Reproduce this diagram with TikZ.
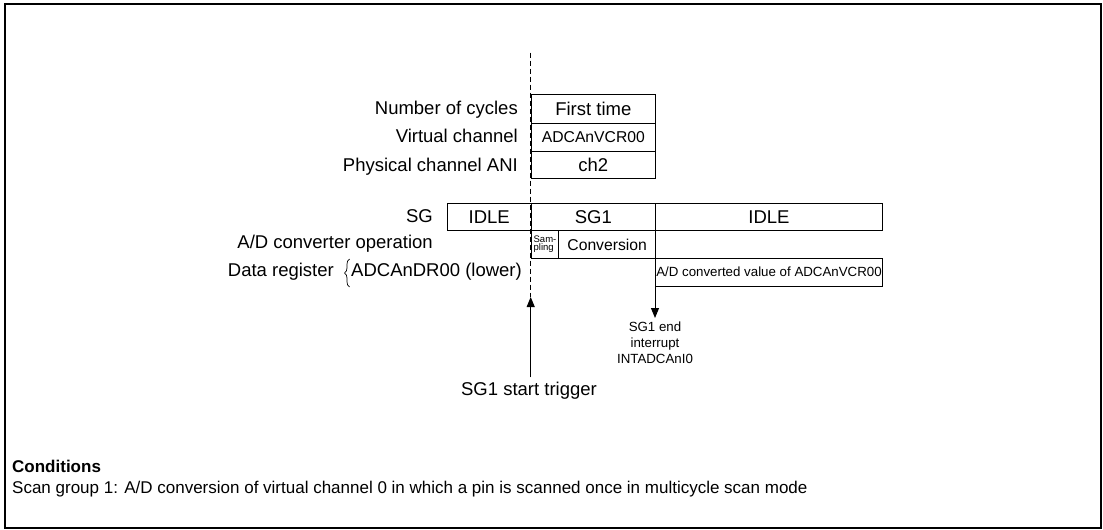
\documentclass[tikz,border=0pt]{standalone}
\usepackage{fontspec}
\setmainfont{Liberation Sans}
\usetikzlibrary{arrows.meta,decorations.pathreplacing}
\newcommand\myfbig{\fontsize{18.5}{22}\selectfont}
\newcommand\myfbot{\fontsize{17}{20}\selectfont}
\newcommand\myfmid{\fontsize{15.7}{18}\selectfont}
\newcommand\myfsmall{\fontsize{13.3}{16}\selectfont}
\newcommand\myftiny{\fontsize{9.5}{8}\selectfont}
\begin{document}
\begin{tikzpicture}[x=1pt,y=-1pt,
  box/.style={draw, line width=1pt, inner sep=0pt, anchor=north west, font=\myfbig},
  lbl/.style={inner sep=0pt, anchor=base east, font=\myfbig},
  conn/.style={line width=1pt, -{Triangle[length=10pt,width=8pt]}},
  frame/.style={line width=2pt}
]
\useasboundingbox (0,0) rectangle (1103,530);
\draw[frame] (5,4) rectangle (1101,528);

% top table
\node[box, minimum width=124.3, minimum height=28.4] (nc) at (530.7,94.3) {First time};
\node[box, minimum width=124.3, minimum height=28.3, font=\myfmid] (vc) at (530.7,122.7) {ADCAnVCR00};
\node[box, minimum width=124.3, minimum height=27.3] (pc) at (530.7,151) {ch2};
\node[lbl] (lnc) at (518,114.3) {Number of cycles};
\node[lbl] (lvc) at (518,142.7) {Virtual channel};
\node[lbl] (lpc) at (518,171) {Physical channel ANI};

% SG row
\node[box, minimum width=84, minimum height=27.6] (idle1) at (446.7,202.7) {IDLE};
\node[box, minimum width=124.3, minimum height=27.6] (sg1) at (530.7,202.7) {SG1};
\node[box, minimum width=227, minimum height=27.6] (idle2) at (655,202.7) {IDLE};
\node[lbl] (lsg) at (433,222) {SG};

% converter row
\node[box, minimum width=27.6, minimum height=27.2, font=\myftiny, align=left] (samp) at (530.7,230.3) {Sam-\\pling};
\node[box, minimum width=96.7, minimum height=27.2, font=\myfmid] (conv) at (558.3,230.3) {Conversion};
\node[lbl] (lad) at (433,248) {A/D converter operation};

% data register
\node[box, minimum width=227, minimum height=28, font=\myfsmall] (adv) at (655,257.7) {A/D converted value of ADCAnVCR00};
\node[lbl] (ldr) at (334,276.7) {Data register};
\node[inner sep=0pt, anchor=base west, font=\myfbig] (dr) at (351,276.7) {ADCAnDR00 (lower)};
\draw[line width=0.7pt, decorate, decoration={brace, amplitude=5pt}] (349.5,287) -- (349.5,259);

% dashed time line and trigger
\coordinate (dtop) at (530.7,52.7);
\coordinate (trigtip) at (530.7,297);
\draw[line width=1pt, dash pattern=on 5pt off 3pt] (dtop) -- (trigtip);
\node[inner sep=0pt, anchor=base, font=\myfbig] (trig) at (529,395) {SG1 start trigger};
\draw[conn, shorten <=4pt] (trig.north -| trigtip) -- (trigtip);

% end interrupt
\node[inner sep=0pt, anchor=north, font=\myfsmall, align=center] (endn) at (655,322) {SG1 end\\interrupt\\INTADCAnI0};
\coordinate (endtip) at (655,318);
\draw[conn] (adv.south west) -- (endtip);

% conditions
\node[inner sep=0pt, anchor=base west, font=\myfbot\bfseries] (cond) at (12,472) {Conditions};
\node[inner sep=0pt, anchor=base west, font=\myfbot] (scan) at (12,493) {Scan group 1: A/D conversion of virtual channel 0 in which a pin is scanned once in multicycle scan mode};
\end{tikzpicture}
\end{document}
